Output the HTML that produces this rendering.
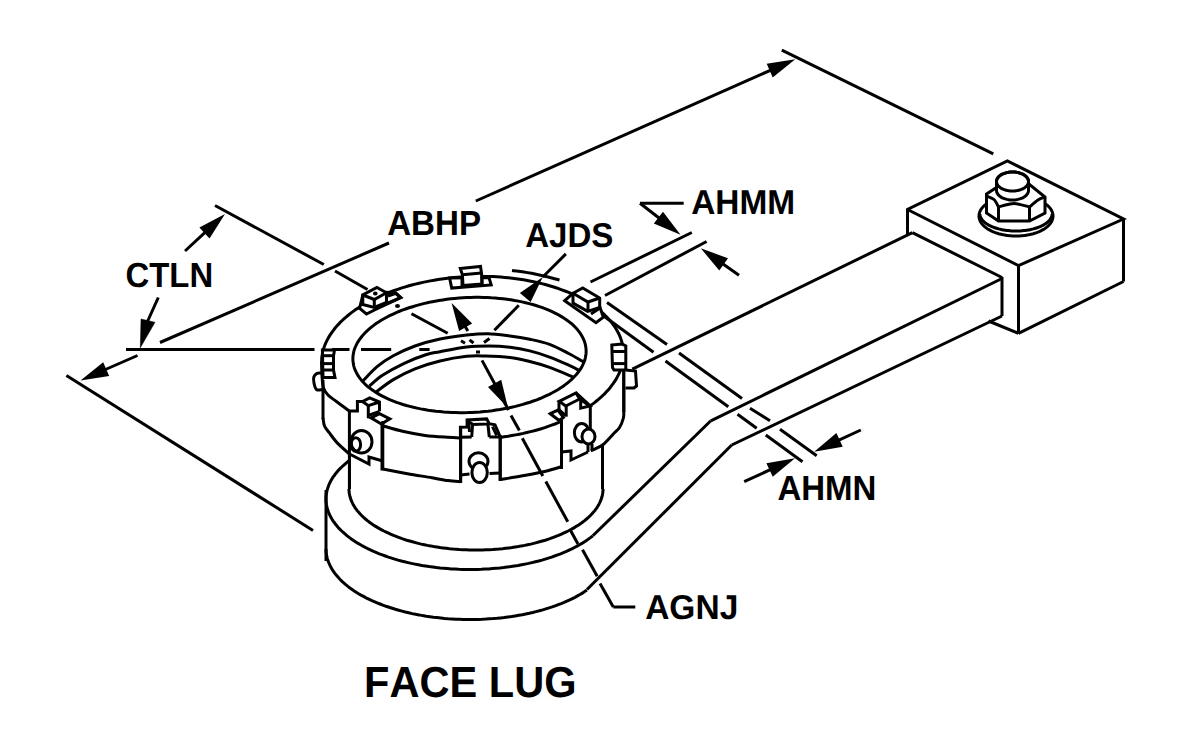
<!DOCTYPE html>
<html><head><meta charset="utf-8"><style>
html,body{margin:0;padding:0;background:#fff;width:1200px;height:750px;overflow:hidden}
svg{display:block}
text{font-family:"Liberation Sans",sans-serif;font-weight:bold;fill:#000;stroke:none;font-kerning:none;text-rendering:geometricPrecision}
</style></head><body>
<svg width="1200" height="750" viewBox="0 0 1200 750" fill="none" stroke="#000" stroke-linecap="butt" stroke-linejoin="miter">
<rect width="1200" height="750" fill="#fff" stroke="none"/>
<line x1="215" y1="205.5" x2="323.8" y2="264.5" stroke-width="3"/>
<line x1="335" y1="271" x2="367.5" y2="289.5" stroke-width="3"/>
<line x1="411.5" y1="313.8" x2="447.7" y2="333.3" stroke-width="3"/>
<line x1="461" y1="340.8" x2="465" y2="343.2" stroke-width="3"/>
<line x1="469.5" y1="339.8" x2="473.5" y2="343" stroke-width="3"/>
<line x1="126" y1="349.5" x2="314.5" y2="349.5" stroke-width="3"/>
<line x1="332" y1="349.5" x2="349.5" y2="349.5" stroke-width="3"/>
<line x1="361" y1="349.5" x2="391.2" y2="349.5" stroke-width="3"/>
<line x1="419.3" y1="349.5" x2="429.6" y2="349.5" stroke-width="3"/>
<line x1="476" y1="352" x2="480" y2="352" stroke-width="3"/>
<line x1="185" y1="251" x2="205.9" y2="231.7" stroke-width="3"/>
<polygon points="225,214 209.5,238.5 199.4,227.5" fill="#000" stroke="none"/>
<line x1="158.3" y1="297.5" x2="147.5" y2="321.5" stroke-width="3"/>
<polygon points="140.3,347.8 141,319 155,322.3" stroke-width="0.5" fill="#000"/>
<text transform="translate(125.45,286.90) scale(0.9437,1)" font-size="34.88">CTLN</text>
<line x1="137.5" y1="355.5" x2="104.3" y2="370" stroke-width="3"/>
<polygon points="80.5,380.4 103.2,362.3 109.2,376.1" fill="#000" stroke="none"/>
<line x1="160" y1="342.5" x2="389" y2="243" stroke-width="3"/>
<line x1="475.8" y1="201" x2="771.5" y2="69.8" stroke-width="3"/>
<polygon points="795.3,59.2 772.7,77.5 766.7,63.7" fill="#000" stroke="none"/>
<text transform="translate(387.17,234.80) scale(0.9506,1)" font-size="34.88">ABHP</text>
<line x1="66.4" y1="375.6" x2="313" y2="530.4" stroke-width="3"/>
<line x1="781.8" y1="50.2" x2="993.3" y2="153.8" stroke-width="3"/>
<text transform="translate(525.18,246.75) scale(0.9580,1)" font-size="34.52">AJDS</text>
<line x1="565.9" y1="253.9" x2="542.8" y2="277" stroke-width="3"/>
<polygon points="542.8,277 530.6,302.1 519.9,293" fill="#000" stroke="none"/>
<line x1="518.8" y1="305.2" x2="494.4" y2="330.3" stroke-width="3"/>
<line x1="484" y1="342.5" x2="489.5" y2="338.5" stroke-width="3"/>
<path d="M512,270.4 C515.8,271 527.1,272.4 535,274 C542.9,275.6 555.4,279 559.5,280" stroke-width="3"/>
<line x1="467.8" y1="331" x2="464.6" y2="325.5" stroke-width="3"/>
<polygon points="451.6,303 472.1,323.5 459.1,331" fill="#000" stroke="none"/>
<line x1="482" y1="360.4" x2="495.5" y2="385.2" stroke-width="3"/>
<polygon points="508,408 488,387 501.2,379.8" fill="#000" stroke="none"/>
<line x1="503.2" y1="400" x2="508.5" y2="410" stroke-width="3"/>
<line x1="511" y1="415.5" x2="519.4" y2="430.5" stroke-width="3"/>
<line x1="522.3" y1="438.2" x2="542.8" y2="476" stroke-width="3"/>
<line x1="545.8" y1="481.5" x2="567.8" y2="521.8" stroke-width="3"/>
<line x1="570.7" y1="530.7" x2="578" y2="543.9" stroke-width="3"/>
<line x1="582.5" y1="549.7" x2="597.2" y2="576.2" stroke-width="3"/>
<line x1="600" y1="583.5" x2="613.3" y2="607" stroke-width="3"/>
<line x1="613.3" y1="607" x2="635.3" y2="607" stroke-width="3"/>
<text transform="translate(645.17,618.75) scale(0.9710,1)" font-size="34.52">AGNJ</text>
<line x1="640" y1="203.3" x2="683.7" y2="203.3" stroke-width="3"/>
<line x1="640" y1="203.3" x2="660" y2="218.8" stroke-width="3"/>
<polygon points="680.5,234.8 653.8,223.5 663,211.7" fill="#000" stroke="none"/>
<line x1="590.5" y1="282" x2="691.8" y2="232.5" stroke-width="3"/>
<line x1="605" y1="295.5" x2="706.6" y2="241.5" stroke-width="3"/>
<line x1="739" y1="275.3" x2="722" y2="263.3" stroke-width="3"/>
<polygon points="700.8,248.3 728,258.3 719.3,270.6" fill="#000" stroke="none"/>
<text transform="translate(691.17,213.80) scale(0.9672,1)" font-size="34.59">AHMM</text>
<line x1="607" y1="302.5" x2="667" y2="344.5" stroke-width="3"/>
<line x1="679" y1="353" x2="742" y2="398.5" stroke-width="3"/>
<line x1="750" y1="408.3" x2="770" y2="420.8" stroke-width="3"/>
<line x1="780" y1="429.2" x2="816.7" y2="455.8" stroke-width="3"/>
<line x1="603" y1="315.5" x2="653.5" y2="352.3" stroke-width="3"/>
<line x1="665.5" y1="361" x2="728.3" y2="406.7" stroke-width="3"/>
<line x1="737.5" y1="414.2" x2="756.7" y2="428.3" stroke-width="3"/>
<line x1="765.8" y1="435" x2="802.5" y2="461.7" stroke-width="3"/>
<line x1="744.2" y1="481.7" x2="771.4" y2="469.2" stroke-width="3"/>
<polygon points="795,458.3 772.7,476.8 766.4,463.2" fill="#000" stroke="none"/>
<line x1="860.8" y1="430" x2="837.8" y2="440.7" stroke-width="3"/>
<polygon points="814.2,451.7 836.4,433.1 842.7,446.7" fill="#000" stroke="none"/>
<text transform="translate(777.38,500.00) scale(0.9466,1)" font-size="34.88">AHMN</text>
<text transform="translate(364.12,696.80) scale(0.9565,1)" font-size="43.46">FACE LUG</text>
<line x1="592.8" y1="535.8" x2="710.8" y2="420.8" stroke-width="3"/>
<line x1="587" y1="589.5" x2="731.7" y2="445" stroke-width="3"/>
<line x1="710.8" y1="420.8" x2="1002" y2="278.5" stroke-width="3"/>
<line x1="731.7" y1="445" x2="1002" y2="316" stroke-width="3"/>
<line x1="632.3" y1="369.2" x2="912.4" y2="232.6" stroke-width="3"/>
<polyline points="907.5,235 907.5,209.5 1007.4,161 1123.5,219 1018.5,265.6 907.5,209.5" stroke-width="3"/>
<line x1="912.4" y1="232.6" x2="1002" y2="277.5" stroke-width="3"/>
<line x1="1002" y1="277" x2="1002" y2="316" stroke-width="3"/>
<line x1="1123.5" y1="219" x2="1123.5" y2="281.5" stroke-width="3"/>
<line x1="1018.5" y1="265.6" x2="1018.5" y2="333.4" stroke-width="3"/>
<line x1="1018.5" y1="333.4" x2="1123.5" y2="281.5" stroke-width="3"/>
<line x1="988.5" y1="321" x2="1018.5" y2="333.4" stroke-width="3"/>
<polygon points="1053,216 1053,216.7 1052.9,217.4 1052.8,218.1 1052.6,218.8 1052.4,219.5 1052.2,220.2 1051.9,220.8 1051.6,221.5 1051.2,222.2 1050.8,222.8 1050.3,223.5 1049.8,224.1 1049.3,224.8 1048.7,225.4 1048,226 1047.4,226.6 1046.7,227.2 1045.9,227.8 1045.2,228.3 1044.3,228.9 1043.5,229.4 1042.6,229.9 1041.7,230.4 1040.8,230.9 1039.8,231.3 1038.8,231.8 1037.7,232.2 1036.7,232.6 1035.6,233 1034.5,233.3 1033.4,233.7 1032.2,234 1031,234.3 1029.9,234.5 1028.7,234.8 1027.4,235 1026.2,235.2 1025,235.4 1023.7,235.6 1022.4,235.7 1021.1,235.8 1019.9,235.9 1018.6,236 1017.3,236 1016,236 1014.7,236 1013.4,236 1012.1,235.9 1010.9,235.8 1009.6,235.7 1008.3,235.6 1007,235.4 1005.8,235.2 1004.6,235 1003.3,234.8 1002.1,234.5 1001,234.3 999.8,234 998.6,233.7 997.5,233.3 996.4,233 995.3,232.6 994.3,232.2 993.2,231.8 992.2,231.3 991.2,230.9 990.3,230.4 989.4,229.9 988.5,229.4 987.7,228.9 986.8,228.3 986.1,227.8 985.3,227.2 984.6,226.6 984,226 983.3,225.4 982.7,224.8 982.2,224.1 981.7,223.5 981.2,222.8 980.8,222.2 980.4,221.5 980.1,220.8 979.8,220.2 979.6,219.5 979.4,218.8 979.2,218.1 979.1,217.4 979,216.7 979,216 979,215.3 979.1,214.6 979.2,213.9 979.4,213.2 979.6,212.5 979.8,211.8 980.1,211.2 980.4,210.5 980.8,209.8 981.2,209.2 981.7,208.5 982.2,207.9 982.7,207.2 983.3,206.6 984,206 984.6,205.4 985.3,204.8 986.1,204.2 986.8,203.7 987.7,203.1 988.5,202.6 989.4,202.1 990.3,201.6 991.2,201.1 992.2,200.7 993.2,200.2 994.3,199.8 995.3,199.4 996.4,199 997.5,198.7 998.6,198.3 999.8,198 1001,197.7 1002.1,197.5 1003.3,197.2 1004.6,197 1005.8,196.8 1007,196.6 1008.3,196.4 1009.6,196.3 1010.9,196.2 1012.1,196.1 1013.4,196 1014.7,196 1016,196 1017.3,196 1018.6,196 1019.9,196.1 1021.1,196.2 1022.4,196.3 1023.7,196.4 1025,196.6 1026.2,196.8 1027.4,197 1028.7,197.2 1029.9,197.5 1031,197.7 1032.2,198 1033.4,198.3 1034.5,198.7 1035.6,199 1036.7,199.4 1037.7,199.8 1038.8,200.2 1039.8,200.7 1040.8,201.1 1041.7,201.6 1042.6,202.1 1043.5,202.6 1044.3,203.1 1045.2,203.7 1045.9,204.2 1046.7,204.8 1047.4,205.4 1048,206 1048.7,206.6 1049.3,207.2 1049.8,207.9 1050.3,208.5 1050.8,209.2 1051.2,209.8 1051.6,210.5 1051.9,211.2 1052.2,211.8 1052.4,212.5 1052.6,213.2 1052.8,213.9 1052.9,214.6 1053,215.3" stroke-width="3" fill="#fff"/>
<polyline points="1052,214 1052,214.4 1052,214.9 1051.9,215.3 1051.8,215.8 1051.7,216.2 1051.6,216.7 1051.4,217.1 1051.2,217.5 1051,218 1050.8,218.4 1050.5,218.8 1050.2,219.3 1049.9,219.7 1049.6,220.1 1049.3,220.5 1048.9,220.9 1048.5,221.3 1048.1,221.7 1047.6,222.1 1047.2,222.5 1046.7,222.9 1046.2,223.3 1045.7,223.6 1045.1,224 1044.6,224.3 1044,224.7 1043.4,225 1042.8,225.4 1042.1,225.7 1041.5,226 1040.8,226.3 1040.1,226.6 1039.4,226.9 1038.7,227.2 1037.9,227.5 1037.2,227.8 1036.4,228 1035.6,228.3 1034.8,228.5 1034,228.7 1033.2,228.9 1032.3,229.1 1031.5,229.3 1030.6,229.5 1029.8,229.7 1028.9,229.9 1028,230 1027.1,230.2 1026.2,230.3 1025.3,230.4 1024.4,230.5 1023.5,230.6 1022.6,230.7 1021.6,230.8 1020.7,230.9 1019.8,230.9 1018.8,230.9 1017.9,231 1016.9,231 1016,231 1015.1,231 1014.1,231 1013.2,230.9 1012.2,230.9 1011.3,230.9 1010.4,230.8 1009.4,230.7 1008.5,230.6 1007.6,230.5 1006.7,230.4 1005.8,230.3 1004.9,230.2 1004,230 1003.1,229.9 1002.2,229.7 1001.4,229.5 1000.5,229.3 999.7,229.1 998.8,228.9 998,228.7 997.2,228.5 996.4,228.3 995.6,228 994.8,227.8 994.1,227.5 993.3,227.2 992.6,226.9 991.9,226.6 991.2,226.3 990.5,226 989.9,225.7 989.2,225.4 988.6,225 988,224.7 987.4,224.3 986.9,224 986.3,223.6 985.8,223.3 985.3,222.9 984.8,222.5 984.4,222.1 983.9,221.7 983.5,221.3 983.1,220.9 982.7,220.5 982.4,220.1 982.1,219.7 981.8,219.3 981.5,218.8 981.2,218.4 981,218 980.8,217.5 980.6,217.1 980.4,216.7 980.3,216.2 980.2,215.8 980.1,215.3 980,214.9 980,214.4 980,214" stroke-width="3"/>
<polygon points="986.5,194 995,188.5 1029,184 1045,197 1045,213 1029.5,221 998.5,221 986.5,213" stroke-width="3" fill="#fff"/>
<line x1="998.5" y1="207" x2="998.5" y2="221" stroke-width="3"/>
<line x1="1029.5" y1="207" x2="1029.5" y2="221" stroke-width="3"/>
<path d="M986.5,196 C987.8,196.6 992,197.7 994,199.5 C996,201.3 997.8,205.8 998.5,207" stroke-width="3"/>
<path d="M998.5,207 C1001.1,206.4 1008.8,203.5 1014,203.5 C1019.2,203.5 1026.9,206.4 1029.5,207" stroke-width="3"/>
<path d="M1029.5,207 C1030.9,205.8 1035.4,201.7 1038,200 C1040.6,198.3 1043.8,197.5 1045,197" stroke-width="3"/>
<polygon points="996.5,181.5 996.7,179.9 997.5,178.3 998.6,176.8 1000.2,175.4 1002.2,174.2 1004.5,173.3 1007,172.6 1009.7,172.1 1012.5,172 1015.3,172.1 1018,172.6 1020.5,173.3 1022.8,174.2 1024.8,175.4 1026.4,176.8 1027.5,178.3 1028.3,179.9 1028.5,181.5 1028.5,190.5 1028.3,192.1 1027.5,193.7 1026.4,195.2 1024.8,196.6 1022.8,197.8 1020.5,198.7 1018,199.4 1015.3,199.9 1012.5,200 1009.7,199.9 1007,199.4 1004.5,198.7 1002.2,197.8 1000.2,196.6 998.6,195.2 997.5,193.7 996.7,192.1 996.5,190.5" stroke-width="3" fill="#fff"/>
<polygon points="1028.5,181.5 1028.5,181.8 1028.5,182.2 1028.4,182.5 1028.3,182.8 1028.3,183.1 1028.2,183.5 1028,183.8 1027.9,184.1 1027.7,184.4 1027.5,184.7 1027.3,185.1 1027.1,185.4 1026.9,185.7 1026.6,186 1026.4,186.2 1026.1,186.5 1025.8,186.8 1025.4,187.1 1025.1,187.3 1024.8,187.6 1024.4,187.9 1024,188.1 1023.6,188.3 1023.2,188.6 1022.8,188.8 1022.4,189 1021.9,189.2 1021.4,189.4 1021,189.6 1020.5,189.7 1020,189.9 1019.5,190 1019,190.2 1018.5,190.3 1018,190.4 1017.4,190.5 1016.9,190.6 1016.4,190.7 1015.8,190.8 1015.3,190.9 1014.7,190.9 1014.2,190.9 1013.6,191 1013.1,191 1012.5,191 1011.9,191 1011.4,191 1010.8,190.9 1010.3,190.9 1009.7,190.9 1009.2,190.8 1008.6,190.7 1008.1,190.6 1007.6,190.5 1007,190.4 1006.5,190.3 1006,190.2 1005.5,190 1005,189.9 1004.5,189.7 1004,189.6 1003.6,189.4 1003.1,189.2 1002.6,189 1002.2,188.8 1001.8,188.6 1001.4,188.3 1001,188.1 1000.6,187.9 1000.2,187.6 999.9,187.3 999.6,187.1 999.2,186.8 998.9,186.5 998.6,186.2 998.4,186 998.1,185.7 997.9,185.4 997.7,185.1 997.5,184.7 997.3,184.4 997.1,184.1 997,183.8 996.8,183.5 996.7,183.1 996.7,182.8 996.6,182.5 996.5,182.2 996.5,181.8 996.5,181.5 996.5,181.2 996.5,180.8 996.6,180.5 996.7,180.2 996.7,179.9 996.8,179.5 997,179.2 997.1,178.9 997.3,178.6 997.5,178.3 997.7,177.9 997.9,177.6 998.1,177.3 998.4,177 998.6,176.8 998.9,176.5 999.2,176.2 999.6,175.9 999.9,175.7 1000.2,175.4 1000.6,175.1 1001,174.9 1001.4,174.7 1001.8,174.4 1002.2,174.2 1002.6,174 1003.1,173.8 1003.6,173.6 1004,173.4 1004.5,173.3 1005,173.1 1005.5,173 1006,172.8 1006.5,172.7 1007,172.6 1007.6,172.5 1008.1,172.4 1008.6,172.3 1009.2,172.2 1009.7,172.1 1010.3,172.1 1010.8,172.1 1011.4,172 1011.9,172 1012.5,172 1013.1,172 1013.6,172 1014.2,172.1 1014.7,172.1 1015.3,172.1 1015.8,172.2 1016.4,172.3 1016.9,172.4 1017.4,172.5 1018,172.6 1018.5,172.7 1019,172.8 1019.5,173 1020,173.1 1020.5,173.3 1021,173.4 1021.4,173.6 1021.9,173.8 1022.4,174 1022.8,174.2 1023.2,174.4 1023.6,174.7 1024,174.9 1024.4,175.1 1024.8,175.4 1025.1,175.7 1025.4,175.9 1025.8,176.2 1026.1,176.5 1026.4,176.8 1026.6,177 1026.9,177.3 1027.1,177.6 1027.3,177.9 1027.5,178.3 1027.7,178.6 1027.9,178.9 1028,179.2 1028.2,179.5 1028.3,179.9 1028.3,180.2 1028.4,180.5 1028.5,180.8 1028.5,181.2" stroke-width="3" fill="none"/>
<polyline points="326,499 326,497.2 326.2,495.3 326.4,493.5 326.8,491.6 327.2,489.8 327.8,488 328.4,486.2 329.1,484.3 330,482.5 330.9,480.8 331.9,479 333,477.2 334.3,475.5 335.6,473.7 337,472 338.4,470.3 340,468.6 341.7,467 343.5,465.4 345.3,463.8 347.2,462.2 349.2,460.6 349.4,460.5" stroke-width="3"/>
<polyline points="592.8,535.8 590.8,537.4 588.7,538.9 586.5,540.4 584.2,541.9 581.9,543.4 579.5,544.8 577,546.2 574.5,547.5 571.8,548.9 569.1,550.1 566.4,551.4 563.5,552.6 560.6,553.8 557.7,554.9 554.6,556 551.6,557.1 548.4,558.1 545.2,559.1 542,560.1 538.7,561 535.4,561.8 532,562.6 528.6,563.4 525.1,564.1 521.6,564.8 518.1,565.5 514.5,566 510.9,566.6 507.3,567.1 503.6,567.6 499.9,568 496.2,568.3 492.5,568.6 488.8,568.9 485.1,569.1 481.3,569.3 477.5,569.4 473.8,569.5 470,569.5 466.2,569.5 462.5,569.4 458.7,569.3 454.9,569.1 451.2,568.9 447.5,568.6 443.8,568.3 440.1,568 436.4,567.6 432.7,567.1 429.1,566.6 425.5,566 421.9,565.5 418.4,564.8 414.9,564.1 411.4,563.4 408,562.6 404.6,561.8 401.3,561 398,560.1 394.8,559.1 391.6,558.1 388.4,557.1 385.4,556 382.3,554.9 379.4,553.8 376.5,552.6 373.6,551.4 370.9,550.1 368.2,548.9 365.5,547.5 363,546.2 360.5,544.8 358.1,543.4 355.8,541.9 353.5,540.4 351.3,538.9 349.2,537.4 347.2,535.8 345.3,534.2 343.5,532.6 341.7,531 340,529.4 338.4,527.7 337,526 335.6,524.3 334.3,522.5 333,520.8 331.9,519 330.9,517.2 330,515.5 329.1,513.7 328.4,511.8 327.8,510 327.2,508.2 326.8,506.4 326.4,504.5 326.2,502.7 326,500.8 326,499" stroke-width="3"/>
<polyline points="586.9,590.1 584.7,591.6 582.4,593.1 580,594.5 577.5,595.9 575,597.3 572.4,598.6 569.7,599.9 566.9,601.1 564.1,602.4 561.2,603.6 558.3,604.7 555.2,605.8 552.2,606.9 549.1,607.9 545.9,608.9 542.7,609.9 539.4,610.8 536,611.6 532.7,612.5 529.3,613.3 525.8,614 522.3,614.7 518.8,615.3 515.2,615.9 511.6,616.5 508,617 504.3,617.5 500.7,617.9 497,618.3 493.3,618.6 489.5,618.8 485.8,619.1 482,619.3 478.3,619.4 474.5,619.5 470.8,619.5 467,619.5 463.2,619.4 459.5,619.3 455.7,619.2 452,618.9 448.2,618.7 444.5,618.4 440.8,618 437.1,617.6 433.5,617.2 429.8,616.7 426.2,616.2 422.6,615.6 419.1,614.9 415.6,614.3 412.1,613.6 408.7,612.8 405.3,612 402,611.1 398.7,610.2 395.4,609.3 392.2,608.3 389.1,607.3 386,606.3 382.9,605.2 380,604 377.1,602.8 374.2,601.6 371.4,600.4 368.7,599.1 366.1,597.8 363.5,596.4 361,595.1 358.6,593.7 356.2,592.2 353.9,590.7 351.8,589.2 349.6,587.7 347.6,586.2 345.7,584.6 343.8,583 342,581.3 340.4,579.7 338.8,578 337.3,576.3 335.8,574.6 334.5,572.9 333.3,571.1 332.1,569.4 331.1,567.6 330.2,565.8 329.3,564 328.6,562.2 327.9,560.4 327.3,558.6 326.9,556.7 326.5,554.9 326.2,553.1 326.1,551.2 326,549.4 326,549" stroke-width="3"/>
<line x1="326" y1="490" x2="326" y2="561" stroke-width="3"/>
<line x1="349.5" y1="454" x2="349.5" y2="489" stroke-width="3"/>
<line x1="602.5" y1="445" x2="602.5" y2="489" stroke-width="3"/>
<polyline points="603,489 603,490.6 602.8,492.2 602.6,493.8 602.3,495.4 601.9,497 601.4,498.5 600.9,500.1 600.2,501.7 599.5,503.2 598.7,504.8 597.8,506.3 596.8,507.9 595.7,509.4 594.6,510.9 593.3,512.3 592,513.8 590.6,515.3 589.2,516.7 587.6,518.1 586,519.5 584.3,520.9 582.5,522.2 580.7,523.6 578.7,524.9 576.8,526.1 574.7,527.4 572.6,528.6 570.4,529.8 568.1,531 565.8,532.1 563.4,533.2 561,534.3 558.5,535.4 555.9,536.4 553.3,537.4 550.6,538.4 547.9,539.3 545.2,540.2 542.4,541 539.5,541.8 536.6,542.6 533.7,543.4 530.7,544.1 527.7,544.7 524.6,545.4 521.5,545.9 518.4,546.5 515.2,547 512.1,547.5 508.9,547.9 505.6,548.3 502.4,548.7 499.1,549 495.9,549.2 492.6,549.5 489.3,549.7 486,549.8 482.6,549.9 479.3,550 476,550 472.7,550 469.4,549.9 466,549.8 462.7,549.7 459.4,549.5 456.1,549.2 452.9,549 449.6,548.7 446.4,548.3 443.1,547.9 439.9,547.5 436.8,547 433.6,546.5 430.5,545.9 427.4,545.4 424.3,544.7 421.3,544.1 418.3,543.4 415.4,542.6 412.5,541.8 409.6,541 406.8,540.2 404.1,539.3 401.4,538.4 398.7,537.4 396.1,536.4 393.5,535.4 391,534.3 388.6,533.2 386.2,532.1 383.9,531 381.6,529.8 379.4,528.6 377.3,527.4 375.2,526.1 373.3,524.9 371.3,523.6 369.5,522.2 367.7,520.9 366,519.5 364.4,518.1 362.8,516.7 361.4,515.3 360,513.8 358.7,512.3 357.4,510.9 356.3,509.4 355.2,507.9 354.2,506.3 353.3,504.8 352.5,503.2 351.8,501.7 351.1,500.1 350.6,498.5 350.1,497 349.7,495.4 349.4,493.8 349.2,492.2 349,490.6 349,489" stroke-width="3"/>
<polyline points="321.6,364 321.6,361.8 321.7,359.7 321.8,357.5 322.1,355.4 322.5,353.3 323,351.1 323.6,349 324.2,346.9 325,344.8 325.9,342.7 326.9,340.6 328,338.5 329.2,336.4 330.5,334.4 331.9,332.3 333.4,330.3 334.9,328.3 336.6,326.3 338.4,324.4 340.2,322.4 342.2,320.5 344.2,318.6 346.3,316.8 348.5,315 350.8,313.1 353.2,311.4 355.7,309.6 358.2,307.9 360.8,306.3 363.5,304.6 366.3,303 369.2,301.5 372.1,299.9 375,298.5 378.1,297 381.2,295.6 384.4,294.3 387.6,292.9 390.9,291.7 394.3,290.5 397.7,289.3 401.1,288.1 404.6,287.1 408.2,286 411.8,285 415.4,284.1 419.1,283.2 422.8,282.4 426.6,281.6 430.3,280.9 434.2,280.2 438,279.6 441.8,279 445.7,278.5 449.6,278 453.5,277.6 457.5,277.3 461.4,277 465.3,276.7 469.3,276.6 473.2,276.4 477.2,276.4 481.1,276.3 485.1,276.4 489,276.5 492.9,276.6 496.8,276.8 500.7,277.1 504.6,277.4 508.4,277.8 512.3,278.2 516.1,278.7 519.8,279.2 523.6,279.8 527.3,280.5 530.9,281.2 534.6,281.9 538.1,282.7 541.7,283.6 545.2,284.5 548.6,285.5 552,286.5 555.3,287.5 558.6,288.6 561.8,289.8 565,291 568,292.2 571.1,293.5 574,294.8 576.9,296.2 579.7,297.6 582.5,299.1 585.1,300.6 587.7,302.1 590.2,303.7 592.7,305.3 595,307 597.3,308.7 599.5,310.4 601.6,312.1 603.6,313.9 605.5,315.7 607.3,317.6 609,319.4 610.7,321.3 612.2,323.3 613.7,325.2 615,327.2 616.3,329.2 617.4,331.2 618.5,333.2 619.4,335.2 620.3,337.3 621,339.4 621.7,341.5 622.2,343.6 622.7,345.7 623,347.8 623.2,349.9 623.4,352" stroke-width="3"/>
<path d="M321.5,362 C321.6,364.3 321.7,371.7 322,376 C322.3,380.3 322.5,384.8 323.5,388 C324.5,391.2 325.8,392.7 328,395 C330.2,397.3 333.1,399 336.7,401.7 C340.3,404.4 347.3,409.4 349.4,411" stroke-width="3"/>
<path d="M382.8,425.8 C386.1,426.7 395.5,429.7 402.5,431.3 C409.5,432.9 417.5,434.4 425,435.4 C432.5,436.4 441.6,436.9 447.5,437.3 C453.4,437.7 458.3,437.9 460.5,438" stroke-width="3"/>
<polyline points="561.5,421.4 558.2,422.7 555,424 551.6,425.2 548.2,426.4 544.8,427.6 541.3,428.7 537.8,429.7 534.2,430.7 530.5,431.6 526.9,432.5 523.2,433.4 519.4,434.2 515.7,434.9 511.9,435.6 508,436.3 504.2,436.8 500.3,437.4" stroke-width="3"/>
<polyline points="623.4,352 623.4,354.2 623.3,356.3 623.2,358.5 622.9,360.6 622.5,362.7 622,364.9 621.4,367 620.8,369.1 620,371.2 619.1,373.3 618.1,375.4 617,377.5 615.8,379.6 614.5,381.6 613.1,383.7 611.6,385.7 610.1,387.7 608.4,389.7 606.6,391.6 604.8,393.6 602.8,395.5 600.8,397.4 598.7,399.2 596.5,401 594.2,402.9 591.8,404.6 590.1,405.8" stroke-width="3"/>
<line x1="323" y1="380" x2="323" y2="419" stroke-width="3"/>
<line x1="623.8" y1="358" x2="623.8" y2="412" stroke-width="3"/>
<path d="M323,418 C323.2,419.3 323.5,423.6 324.5,426 C325.5,428.4 327,429.8 329.2,432.7 C331.4,435.6 334.3,439.8 337.7,443.4 C341.1,446.9 347.4,452.2 349.4,454" stroke-width="3"/>
<path d="M623.8,411 C623.7,412.2 624.1,415.2 623.4,418 C622.7,420.8 621.2,424.8 619.5,427.5 C617.8,430.2 616.1,431.1 613.3,434 C610.5,436.9 606.2,442.2 602.5,445 C598.8,447.8 592.8,449.8 590.8,450.8" stroke-width="3"/>
<path d="M382.8,469 C386.9,469.8 399.3,472.2 407.5,473.7 C415.7,475.2 425.2,476.6 432,477.8 C438.8,479 443.2,479.9 448,480.6 C452.8,481.3 458.4,481.6 460.5,481.8" stroke-width="3"/>
<path d="M500.2,479.6 C503.7,479 513.7,477.5 521.3,476.1 C528.9,474.7 539,472.9 545.7,471.3 C552.4,469.7 558.9,467.5 561.5,466.7" stroke-width="3"/>
<line x1="382" y1="424" x2="382" y2="470.5" stroke-width="3"/>
<line x1="460.7" y1="427" x2="460.7" y2="483" stroke-width="3"/>
<line x1="500.2" y1="435" x2="500.2" y2="480.5" stroke-width="3"/>
<line x1="561.5" y1="420" x2="561.5" y2="469" stroke-width="3"/>
<polygon points="586.1,349.9 586.1,351.9 586,353.9 585.7,355.9 585.3,358 584.8,360 584.1,362 583.2,364 582.3,365.9 581.2,367.9 579.9,369.9 578.5,371.8 577,373.7 575.4,375.6 573.6,377.5 571.7,379.3 569.7,381.1 567.6,382.9 565.3,384.6 562.9,386.4 560.4,388 557.8,389.7 555.1,391.2 552.3,392.8 549.4,394.3 546.4,395.7 543.3,397.1 540.1,398.5 536.8,399.8 533.4,401 530,402.2 526.4,403.3 522.9,404.4 519.2,405.4 515.5,406.4 511.7,407.2 507.9,408.1 504,408.8 500.1,409.5 496.2,410.1 492.2,410.7 488.2,411.2 484.2,411.6 480.1,412 476.1,412.2 472,412.4 467.9,412.6 463.9,412.7 459.8,412.7 455.8,412.6 451.7,412.5 447.7,412.2 443.7,412 439.8,411.6 435.9,411.2 432,410.7 428.2,410.2 424.4,409.5 420.6,408.9 417,408.1 413.4,407.3 409.8,406.4 406.4,405.5 403,404.5 399.7,403.4 396.5,402.3 393.4,401.1 390.3,399.9 387.4,398.6 384.5,397.2 381.8,395.8 379.2,394.4 376.7,392.9 374.2,391.3 372,389.8 369.8,388.1 367.7,386.5 365.8,384.8 364,383 362.3,381.2 360.8,379.4 359.4,377.6 358.1,375.7 357,373.8 356,371.9 355.1,370 354.4,368 353.8,366.1 353.4,364.1 353.1,362.1 352.9,360.1 352.9,358.1 353,356.1 353.3,354.1 353.7,352 354.2,350 354.9,348 355.8,346 356.7,344.1 357.8,342.1 359.1,340.1 360.5,338.2 362,336.3 363.6,334.4 365.4,332.5 367.3,330.7 369.3,328.9 371.4,327.1 373.7,325.4 376.1,323.6 378.6,322 381.2,320.3 383.9,318.8 386.7,317.2 389.6,315.7 392.6,314.3 395.7,312.9 398.9,311.5 402.2,310.2 405.6,309 409,307.8 412.6,306.7 416.1,305.6 419.8,304.6 423.5,303.6 427.3,302.8 431.1,301.9 435,301.2 438.9,300.5 442.8,299.9 446.8,299.3 450.8,298.8 454.8,298.4 458.9,298 462.9,297.8 467,297.6 471.1,297.4 475.1,297.3 479.2,297.3 483.2,297.4 487.3,297.5 491.3,297.8 495.3,298 499.2,298.4 503.1,298.8 507,299.3 510.8,299.8 514.6,300.5 518.4,301.1 522,301.9 525.6,302.7 529.2,303.6 532.6,304.5 536,305.5 539.3,306.6 542.5,307.7 545.6,308.9 548.7,310.1 551.6,311.4 554.5,312.8 557.2,314.2 559.8,315.6 562.3,317.1 564.8,318.7 567,320.2 569.2,321.9 571.3,323.5 573.2,325.2 575,327 576.7,328.8 578.2,330.6 579.6,332.4 580.9,334.3 582,336.2 583,338.1 583.9,340 584.6,342 585.2,343.9 585.6,345.9 585.9,347.9" stroke-width="3" fill="none"/>
<path d="M363,380.7 C365.4,378.4 372.1,370.8 377.1,366.6 C382.2,362.5 387,359.2 393.3,355.8 C399.6,352.4 407.2,348.8 415,346 C422.8,343.2 431.4,340.8 440,339 C448.6,337.2 458.7,335.9 466.7,335 C474.7,334.1 480.8,333.6 488,333.7 C495.2,333.8 503,335 510,335.9 C517,336.8 523.2,337.8 529.8,339.2 C536.4,340.6 543.1,341.9 549.6,344.3 C556.1,346.7 563.1,350.6 568.7,353.5 C574.3,356.4 580.9,360.5 583.3,361.9" stroke-width="3"/>
<path d="M369.5,386 C371.7,384.2 376.7,379.1 382.5,375.3 C388.3,371.5 397,366.7 404.2,363.3 C411.4,359.9 419.8,356.6 425.8,354.7 C431.8,352.8 433.2,353 440,351.7 C446.8,350.4 458.5,347.9 466.7,347 C474.9,346.1 481.8,346 489,346 C496.2,346 503.2,346.4 510,347.2 C516.8,348 523.2,349.2 529.8,350.9 C536.4,352.5 543.1,354.7 549.6,357.1 C556.1,359.5 563.8,363 568.7,365.2 C573.6,367.4 577.2,369.4 578.9,370.3" stroke-width="3"/>
<path d="M376,392 C378.9,389.9 386.8,383.5 393.3,379.6 C399.8,375.7 407.2,371.9 415,368.8 C422.8,365.7 431.4,363.1 440,361 C448.6,358.9 459.2,357.1 466.7,356.3 C474.2,355.5 477.8,355.8 485,356 C492.2,356.2 502.5,356.6 510,357.5 C517.5,358.4 523.2,359.9 529.8,361.5 C536.4,363.1 542.4,364.8 549.6,367.4 C556.8,370 569.1,375.3 573,376.9" stroke-width="3"/>
<line x1="349.4" y1="411" x2="349.4" y2="489" stroke-width="3"/>
<polyline points="349.4,411 357.4,411 357.4,401.5 362.5,401.5 369.7,397.8 379.5,402 379.5,411.3" stroke-width="3"/>
<line x1="368.3" y1="405.7" x2="368.3" y2="418.3" stroke-width="3"/>
<polyline points="362.5,401.5 368.3,405.7 379.5,402" stroke-width="3"/>
<line x1="368.3" y1="415.5" x2="379.5" y2="411.3" stroke-width="3"/>
<polygon points="371,417.9 379.5,413.7 389.8,418.8 381.4,424" stroke-width="3"/>
<line x1="382.8" y1="421" x2="382.8" y2="470" stroke-width="3"/>
<ellipse cx="361.5" cy="441.7" rx="10.5" ry="11.3" stroke-width="3" fill="none"/>
<ellipse cx="355.8" cy="444.5" rx="4.8" ry="6.8" stroke-width="3" fill="none"/>
<polyline points="349.5,454 369,464 369,457 382.8,461" stroke-width="3"/>
<polyline points="460.4,438 460.4,427.2 467.1,427 467.1,419.9 486.7,418.9 489.2,423.7 495,424.9 499.6,435.3 500.2,435.6" stroke-width="3"/>
<line x1="460.5" y1="427" x2="460.5" y2="483" stroke-width="3"/>
<line x1="500.2" y1="435" x2="500.2" y2="481" stroke-width="3"/>
<polyline points="467.1,419.9 468.8,421.6 472.9,424.5 486.7,424 489.2,423.7" stroke-width="3"/>
<line x1="468.7" y1="421.6" x2="469.5" y2="432" stroke-width="3"/>
<line x1="472.6" y1="424.5" x2="471.7" y2="437" stroke-width="3"/>
<line x1="460.4" y1="437.2" x2="471.7" y2="437" stroke-width="3"/>
<line x1="487.9" y1="424" x2="489.3" y2="437" stroke-width="3"/>
<line x1="489.3" y1="437" x2="499.6" y2="437" stroke-width="3"/>
<line x1="492.5" y1="426.6" x2="496.7" y2="435.3" stroke-width="3"/>
<ellipse cx="478.5" cy="461.3" rx="9.5" ry="8.5" stroke-width="3" fill="#fff"/>
<ellipse cx="479.6" cy="472.5" rx="7.7" ry="10.1" stroke-width="3" fill="#fff"/>
<line x1="460.7" y1="475" x2="469.5" y2="474" stroke-width="3"/>
<line x1="489.5" y1="473.5" x2="500.2" y2="473" stroke-width="3"/>
<line x1="561.5" y1="420" x2="561.5" y2="467" stroke-width="3"/>
<polygon points="550.3,413.7 557.8,410.2 563.4,417.4 559.2,420.5" stroke-width="3"/>
<line x1="559" y1="401.3" x2="559" y2="409.7" stroke-width="3"/>
<polygon points="559.2,401.3 576,392.9 579.7,399 565.7,406" stroke-width="3"/>
<line x1="566.2" y1="406" x2="566.2" y2="416.7" stroke-width="3"/>
<line x1="559" y1="409.7" x2="565.3" y2="415.3" stroke-width="3"/>
<line x1="576" y1="392.9" x2="590" y2="405.5" stroke-width="3"/>
<polygon points="580.7,399.5 580.7,408.2 589.6,406" stroke-width="3"/>
<line x1="590.3" y1="405.5" x2="590.3" y2="429" stroke-width="3"/>
<polyline points="561.5,452 571,451 571,460 588,452" stroke-width="3"/>
<ellipse cx="581.7" cy="432.7" rx="7.3" ry="9.2" stroke-width="3" fill="#fff"/>
<ellipse cx="588.5" cy="436.5" rx="6.5" ry="7.5" stroke-width="3" fill="#fff"/>
<line x1="588" y1="444" x2="588" y2="452" stroke-width="3"/>
<line x1="592" y1="444" x2="592" y2="450" stroke-width="3"/>
<polygon points="359.6,308.3 366.5,314 374.5,310 400.7,297.6 395.9,293.3 386.8,292.3 362.8,295" stroke-width="3" fill="#fff"/>
<polygon points="362.8,304.5 362.8,295 376.9,287.5 386.5,292.8 386.5,302.4 374.3,307.5 362.8,304.5" stroke-width="3" fill="#fff"/>
<polyline points="362.8,295 374.3,299.5 386.5,292.8" stroke-width="3"/>
<line x1="374.3" y1="299.5" x2="374.3" y2="307.5" stroke-width="3"/>
<polyline points="388,296 395.9,293.3 400.7,297.6 388,303" stroke-width="3"/>
<ellipse cx="375.3" cy="293.6" rx="1.3" ry="1" stroke-width="2" fill="#000"/>
<ellipse cx="397.5" cy="306" rx="1.5" ry="1" stroke-width="2" fill="#000"/>
<polygon points="449.6,278 451.7,288.1 491.2,285 489,277.5" stroke-width="3" fill="#fff"/>
<polygon points="460.3,268.4 480.5,266.5 481.5,273 482,284 463,285.5 462.4,274.8" stroke-width="3" fill="#fff"/>
<line x1="462.4" y1="274.8" x2="481.5" y2="273" stroke-width="3"/>
<line x1="462" y1="278" x2="462" y2="286" stroke-width="3"/>
<line x1="482" y1="277" x2="482" y2="285" stroke-width="3"/>
<polygon points="564.7,300.7 596,322.7 603.3,317.3 600,307.3 573,293.3" stroke-width="3" fill="#fff"/>
<polygon points="573,303 573,293.3 582.7,288 599.7,298 599.7,307.3 587.7,311.3" stroke-width="3" fill="#fff"/>
<polyline points="573,293.3 588,302 599.7,298" stroke-width="3"/>
<line x1="588" y1="302" x2="588" y2="311.3" stroke-width="3"/>
<line x1="591" y1="314" x2="600" y2="308" stroke-width="3"/>
<polygon points="322.4,350 334.5,350 333.5,356 333.5,370 335,377.6 323,377.6" stroke-width="3" fill="#fff"/>
<line x1="323.5" y1="355.7" x2="333.5" y2="355.7" stroke-width="3"/>
<line x1="323.5" y1="363.6" x2="333.5" y2="363.6" stroke-width="3"/>
<line x1="323.5" y1="370" x2="333.5" y2="370" stroke-width="3"/>
<path d="M322,373 C321.2,373.1 318.4,372.6 317,373.3 C315.6,374 314.3,375.4 313.8,377 C313.3,378.6 313.6,380.9 314,383 C314.4,385.1 315.2,388.4 316.5,389.5 C317.8,390.6 321.1,389.7 322,389.7" stroke-width="3"/>
<polygon points="611.8,345 622,344 625.8,346 625.8,370 614,370 612.5,367.5" stroke-width="3" fill="#fff"/>
<line x1="613" y1="351.5" x2="625" y2="351.5" stroke-width="3"/>
<line x1="613" y1="363.6" x2="625" y2="363.6" stroke-width="3"/>
<polyline points="625.5,370 635.5,371 636.5,386 634,388 625.5,388" stroke-width="3" fill="#fff"/>
<line x1="623.8" y1="370" x2="623.8" y2="412" stroke-width="3"/>
</svg>
</body></html>
